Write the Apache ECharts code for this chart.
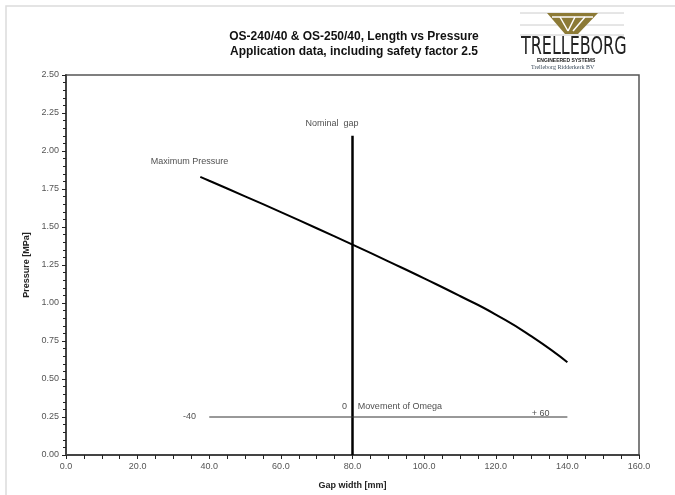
<!DOCTYPE html>
<html>
<head>
<meta charset="utf-8">
<script src="https://cdn.jsdelivr.net/npm/echarts@6/dist/echarts.min.js"></script>
<style>
  html, body { margin: 0; padding: 0; background: #fff; }
  #pressureChart { width: 675px; height: 495px; }
</style>
</head>
<body>
<div id="pressureChart"></div>
<script>
var pressureChart = echarts.init(document.getElementById("pressureChart"));

// gap width [mm] and max pressure [MPa]
let gapWidth = [37.5, 40, 50, 60, 70, 80, 90, 100, 110, 120, 130, 140];
let maxPressure = [1.83, 1.804, 1.702, 1.598, 1.492, 1.384, 1.274, 1.162, 1.046, 0.924, 0.78, 0.61];

// nominal gap line and movement of omega
let nominalGap = [[80, 0], [80, 2.1]];
let movementLine = [[40, 0.25], [140, 0.25]];

// text labels placed in data coordinates
let noteText = ["Nominal  gap", "Maximum Pressure", "-40", "0", "Movement of Omega", "+ 60"];
let noteX = [74.3, 34.5, 34.5, 78.5, 81.5, 132.5];
let noteY = [2.18, 1.93, 0.25, 0.32, 0.32, 0.27];
let noteAlign = ["center", "center", "center", "right", "left", "center"];

let titleLines = ["OS-240/40 & OS-250/40, Length vs Pressure", "Application data, including safety factor 2.5"];

let curveData = gapWidth.map((g, i) => [g, maxPressure[i]]);
let notes = noteText.map((t, i) => ({
  value: [noteX[i], noteY[i]],
  name: t,
  label: { align: noteAlign[i] }
}));

const olive = "#8c7a36";

pressureChart.setOption({
  animation: false,
  textStyle: { fontFamily: "Liberation Sans, Arial, sans-serif" },
  title: {
    text: titleLines.join("\n"),
    left: 349,
    top: 24,
    textAlign: "center",
    textStyle: { fontSize: 12, fontWeight: "bold", color: "#111", lineHeight: 15 }
  },
  grid: {
    left: 66,
    right: 36,
    top: 75,
    bottom: 37,
    show: true,
    borderColor: "#555",
    borderWidth: 1.5,
    backgroundColor: "#fff"
  },
  xAxis: {
    type: "value",
    min: 0,
    max: 160,
    interval: 20,
    name: "Gap width [mm]",
    nameLocation: "middle",
    nameGap: 26,
    nameTextStyle: { fontSize: 9, fontWeight: "bold", color: "#222" },
    axisLine: { show: true, lineStyle: { color: "#444", width: 2 } },
    axisTick: { show: true, length: 4, lineStyle: { color: "#222" } },
    minorTick: { show: true, splitNumber: 4, length: 4, lineStyle: { color: "#222" } },
    splitLine: { show: false },
    axisLabel: { fontSize: 9, color: "#555", margin: 7, formatter: v => v.toFixed(1) }
  },
  yAxis: {
    type: "value",
    min: 0,
    max: 2.5,
    interval: 0.25,
    name: "Pressure [MPa]",
    nameLocation: "middle",
    nameGap: 33,
    nameTextStyle: { fontSize: 9, fontWeight: "bold", color: "#222" },
    axisLine: { show: true, lineStyle: { color: "#444", width: 2 } },
    axisTick: { show: true, length: 4, lineStyle: { color: "#222" } },
    minorTick: { show: true, splitNumber: 5, length: 3, lineStyle: { color: "#222" } },
    splitLine: { show: false },
    axisLabel: { fontSize: 9, color: "#555", margin: 7, formatter: v => v.toFixed(2) }
  },
  series: [
    {
      name: "Maximum Pressure",
      type: "line",
      data: curveData,
      smooth: 0.6,
      symbol: "none",
      lineStyle: { color: "#000", width: 2 }
    },
    {
      name: "Nominal gap",
      type: "line",
      data: nominalGap,
      symbol: "none",
      lineStyle: { color: "#000", width: 2.5 }
    },
    {
      name: "Movement",
      type: "line",
      data: movementLine,
      symbol: "none",
      lineStyle: { color: "#333", width: 1 }
    },
    {
      name: "notes",
      type: "scatter",
      data: notes,
      symbolSize: 0,
      label: {
        show: true,
        position: "inside",
        formatter: p => p.name,
        fontSize: 9,
        color: "#222",
        verticalAlign: "middle"
      }
    }
  ],
  graphic: [
    {
      type: "rect",
      shape: { x: 6, y: 6, width: 700, height: 520 },
      style: { fill: null, stroke: "#dcdcdc", lineWidth: 1.5 },
      silent: true,
      z: -10
    },
    // logo guide lines
    { type: "line", shape: { x1: 520, y1: 13, x2: 624, y2: 13 }, style: { stroke: "#ccc", lineWidth: 1 } },
    { type: "line", shape: { x1: 520, y1: 25, x2: 624, y2: 25 }, style: { stroke: "#ccc", lineWidth: 1 } },
    { type: "line", shape: { x1: 520, y1: 35, x2: 624, y2: 35 }, style: { stroke: "#ccc", lineWidth: 1 } },
    // logo mark
    {
      type: "polygon",
      shape: { points: [[547, 13], [598, 13], [578, 34], [565, 34]] },
      style: { fill: olive }
    },
    { type: "line", shape: { x1: 552, y1: 17, x2: 593, y2: 17 }, style: { stroke: "#fff", lineWidth: 1.5 } },
    { type: "line", shape: { x1: 560, y1: 17, x2: 568, y2: 31 }, style: { stroke: "#fff", lineWidth: 1.5 } },
    { type: "line", shape: { x1: 575, y1: 17, x2: 568, y2: 31 }, style: { stroke: "#fff", lineWidth: 1.5 } },
    { type: "line", shape: { x1: 585, y1: 17, x2: 573, y2: 31 }, style: { stroke: "#fff", lineWidth: 1.5 } },
    {
      type: "text",
      x: 521,
      y: 36,
      scaleX: 0.74,
      style: {
        text: "TRELLEBORG",
        font: "24px 'Liberation Sans Narrow', 'DejaVu Sans Condensed', sans-serif",
        fill: "#222"
      }
    },
    {
      type: "text",
      left: 537,
      top: 58,
      style: { text: "ENGINEERED SYSTEMS", font: "bold 5px 'Liberation Sans', sans-serif", fill: "#222" }
    },
    {
      type: "text",
      left: 531,
      top: 64,
      style: { text: "Trelleborg Ridderkerk BV", font: "6px 'Liberation Serif', serif", fill: "#3a4a5a" }
    }
  ]
});
</script>
</body>
</html>
